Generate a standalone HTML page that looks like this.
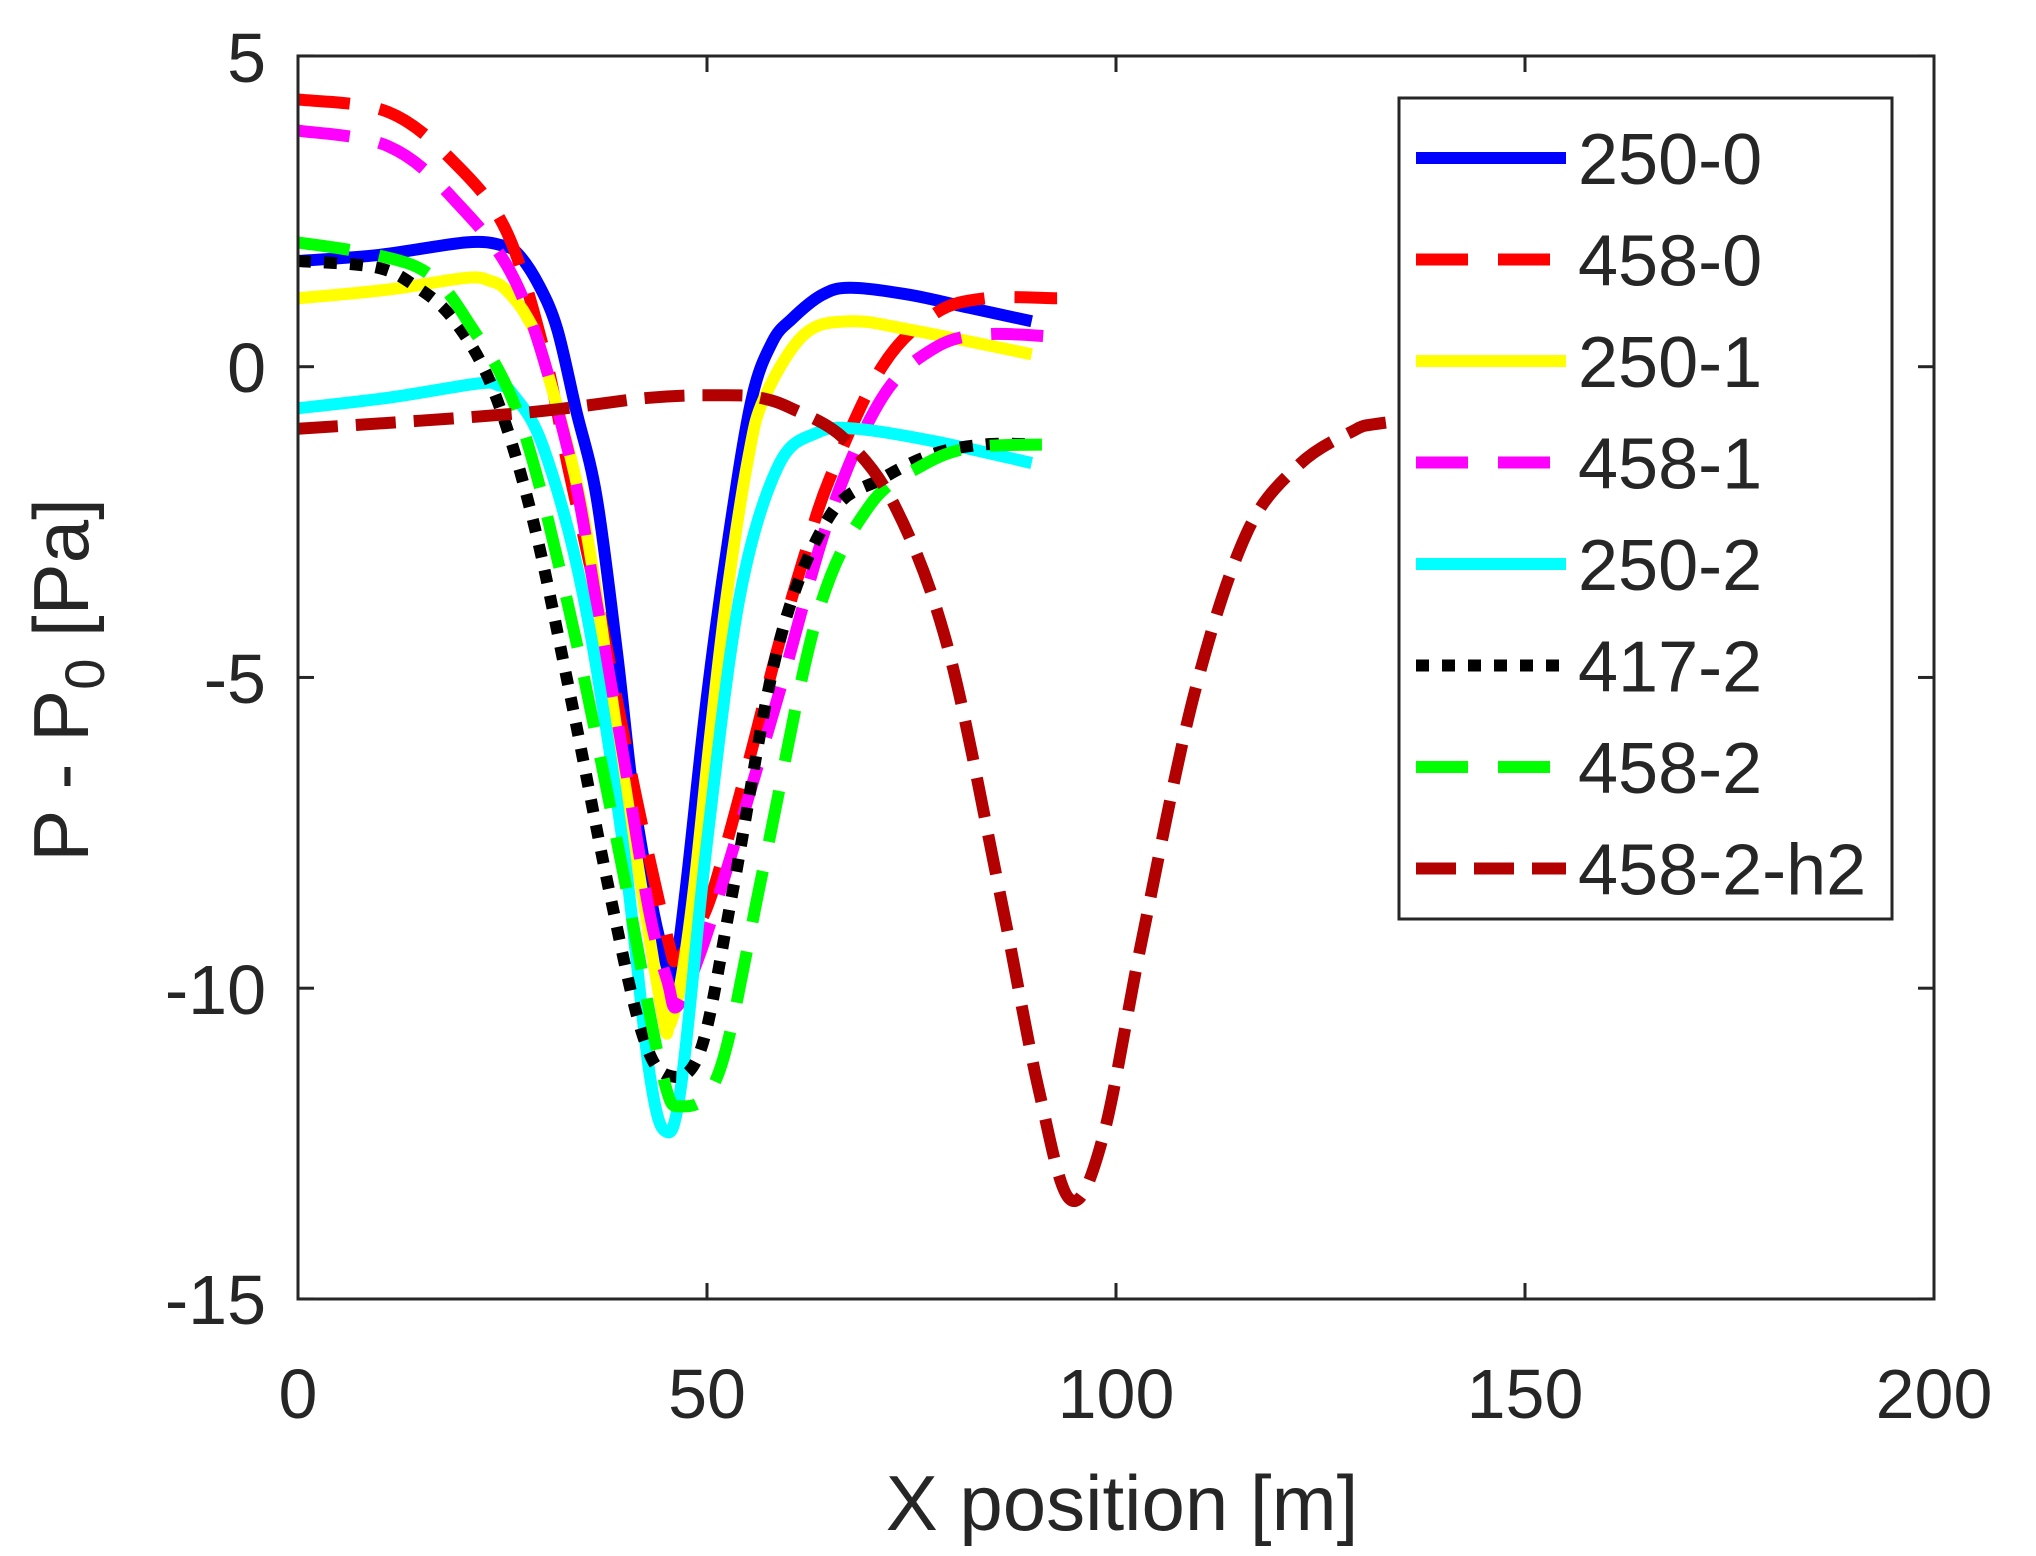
<!DOCTYPE html>
<html><head><meta charset="utf-8"><style>
html,body{margin:0;padding:0;background:#fff;}
svg{display:block;}
text{font-family:"Liberation Sans",Arial,sans-serif;fill:#262626;}
</style></head><body>
<svg id="s" width="2036" height="1556" viewBox="0 0 2036 1556" xmlns="http://www.w3.org/2000/svg">
<defs><clipPath id="c"><rect x="298" y="56" width="1636" height="1243"/></clipPath></defs>
<rect width="2036" height="1556" fill="#fff"/>
<g id="series" clip-path="url(#c)" fill="none" stroke-linejoin="round"></g>
<rect x="298" y="56" width="1636" height="1243" fill="none" stroke="#262626" stroke-width="3"/>
<g id="ticks" stroke="#262626" stroke-width="3"></g>
<g font-size="70" text-anchor="end">
<text x="266" y="82">5</text>
<text x="266" y="392">0</text>
<text x="266" y="703">-5</text>
<text x="266" y="1014">-10</text>
<text x="266" y="1324">-15</text>
</g>
<g font-size="70" text-anchor="middle">
<text x="298" y="1418">0</text>
<text x="707" y="1418">50</text>
<text x="1116" y="1418">100</text>
<text x="1525" y="1418">150</text>
<text x="1934" y="1418">200</text>
</g>
<text x="1122" y="1530" font-size="78" text-anchor="middle">X position [m]</text>
<text transform="translate(88,680) rotate(-90)" font-size="78" text-anchor="middle">P - P<tspan font-size="56" dy="16">0</tspan><tspan dy="-16"> [Pa]</tspan></text>
<g id="legend">
<rect x="1399" y="98" width="493" height="821" fill="#fff" stroke="#262626" stroke-width="3"/>
</g>
</svg>
<script>
var X=function(x){return 298+x*8.18;},Y=function(y){return 366.7-y*62.15;};
var S=[
{n:"250-0",c:"#0000ff",d:"",p:[[0,1.7],[10,1.8],[20.6,2.0],[25,1.95],[27,1.8],[29.5,1.3],[31.7,0.6],[34,-0.7],[36.5,-2.1],[39,-4.6],[41,-6.9],[43.5,-8.8],[45.2,-9.7],[45.9,-9.9],[47.5,-8.3],[50,-5.3],[52.8,-2.6],[55.5,-0.5],[58,0.4],[60.3,0.76],[64,1.15],[67.5,1.27],[74.6,1.16],[82,0.95],[89.7,0.73]]},
{n:"458-0",c:"#ff0000",d:"52 30",p:[[0,4.3],[11,4.1],[19,3.3],[25.4,2.2],[30,0.3],[33,-1.6],[36.5,-3.7],[41.3,-6.9],[45.2,-9.2],[46.3,-9.55],[48.5,-9.1],[50.8,-8.4],[55,-6.4],[58.7,-4.5],[62,-3.0],[65,-1.8],[71.4,0],[77.8,0.85],[84,1.1],[92.8,1.1]]},
{n:"250-1",c:"#ffff00",d:"",p:[[0,1.1],[11,1.24],[20.6,1.43],[23.5,1.38],[25.4,1.24],[28,0.8],[30,0.13],[34.9,-2.4],[39.7,-6.5],[44.4,-10.3],[45.4,-10.6],[46.8,-9.9],[48.4,-8.4],[50.5,-5.8],[52.4,-3.7],[55,-1.5],[57,-0.5],[61.9,0.52],[67.5,0.73],[74.6,0.6],[89.7,0.2]]},
{n:"458-1",c:"#ff00ff",d:"52 30",p:[[0,3.8],[11,3.55],[19,2.7],[27,1.25],[33.3,-1.5],[36.5,-3.8],[39.7,-6.2],[43,-8.8],[45.2,-9.9],[46.3,-10.3],[49,-9.5],[52.4,-8.1],[58.7,-5.3],[65,-2.4],[71.4,-0.5],[77.8,0.3],[84,0.52],[92.8,0.48]]},
{n:"250-2",c:"#00ffff",d:"",p:[[0,-0.67],[11,-0.5],[22,-0.27],[24.5,-0.3],[26.2,-0.43],[30,-1.3],[34.9,-3.7],[39.7,-7.65],[42.9,-11.3],[44.9,-12.3],[46.8,-11.6],[50,-7.65],[54,-3.7],[58.7,-1.6],[63.5,-1.06],[68.3,-1.0],[77.8,-1.2],[89.7,-1.55]]},
{n:"417-2",c:"#000000",d:"13 13",p:[[0,1.7],[9.5,1.6],[14.3,1.3],[19,0.76],[23.8,-0.35],[28.6,-2.4],[33.3,-5.3],[38,-8.4],[42,-10.7],[45.2,-11.4],[49.2,-11.0],[53.2,-8.4],[58.7,-4.5],[65,-2.4],[71.4,-1.8],[77.8,-1.4],[84,-1.25],[89.7,-1.25]]},
{n:"458-2",c:"#00ff00",d:"52 30",p:[[0,2.0],[9.5,1.8],[15.9,1.5],[20.6,0.76],[27,-0.8],[33.3,-4.0],[39.7,-8.1],[44.4,-11.3],[46.8,-11.9],[51.6,-11.3],[57,-8.0],[63.5,-4.0],[69.8,-2.25],[76.2,-1.6],[82.5,-1.3],[92.8,-1.25]]},
{n:"458-2-h2",c:"#b30000",d:"40 18",p:[[0,-1.0],[27,-0.75],[42.9,-0.5],[52.4,-0.46],[56.5,-0.5],[60.3,-0.67],[66.7,-1.15],[73,-2.25],[79.4,-4.5],[85.7,-8.4],[90.5,-11.6],[94.4,-13.4],[98.4,-12.4],[103.2,-9.2],[109.5,-5.3],[115.9,-2.7],[122.2,-1.6],[128.6,-1.06],[133,-0.9],[150,-0.7],[180,-0.6]]}
];
function path(p){
 var q=p.map(function(a){return [X(a[0]),Y(a[1])];});
 var s="M"+q[0][0].toFixed(1)+","+q[0][1].toFixed(1);
 for(var i=0;i<q.length-1;i++){
  var p0=q[i-1]||q[i],p1=q[i],p2=q[i+1],p3=q[i+2]||p2;
  var c1=[p1[0]+(p2[0]-p0[0])/6,p1[1]+(p2[1]-p0[1])/6];
  var c2=[p2[0]-(p3[0]-p1[0])/6,p2[1]-(p3[1]-p1[1])/6];
  s+=" C"+c1[0].toFixed(1)+","+c1[1].toFixed(1)+" "+c2[0].toFixed(1)+","+c2[1].toFixed(1)+" "+p2[0].toFixed(1)+","+p2[1].toFixed(1);
 }
 return s;
}
var NS="http://www.w3.org/2000/svg";
var g=document.getElementById("series");
S.forEach(function(s){
 var e=document.createElementNS(NS,"path");
 e.setAttribute("d",path(s.p));e.setAttribute("stroke",s.c);
 e.setAttribute("stroke-width","12");
 if(s.d)e.setAttribute("stroke-dasharray",s.d);
 g.appendChild(e);
});
var t=document.getElementById("ticks"),h="";
[0,50,100,150,200].forEach(function(x){var px=X(x);h+='<line x1="'+px+'" y1="1299" x2="'+px+'" y2="1283"/><line x1="'+px+'" y1="56" x2="'+px+'" y2="72"/>';});
[5,0,-5,-10,-15].forEach(function(y){var py=Y(y);h+='<line x1="298" y1="'+py+'" x2="314" y2="'+py+'"/><line x1="1934" y1="'+py+'" x2="1918" y2="'+py+'"/>';});
t.innerHTML=h;
var L=document.getElementById("legend");
S.forEach(function(s,i){
 var y=158+i*101.5;
 var l=document.createElementNS(NS,"line");
 l.setAttribute("x1",1416);l.setAttribute("x2",1566);l.setAttribute("y1",y);l.setAttribute("y2",y);
 l.setAttribute("stroke",s.c);l.setAttribute("stroke-width","12");
 if(s.d)l.setAttribute("stroke-dasharray",s.d);
 L.appendChild(l);
 var tx=document.createElementNS(NS,"text");
 tx.setAttribute("x",1578);tx.setAttribute("y",y+26);tx.setAttribute("font-size","72");
 tx.setAttribute("fill","#000");tx.textContent=s.n;
 L.appendChild(tx);
});
</script>
</body></html>
